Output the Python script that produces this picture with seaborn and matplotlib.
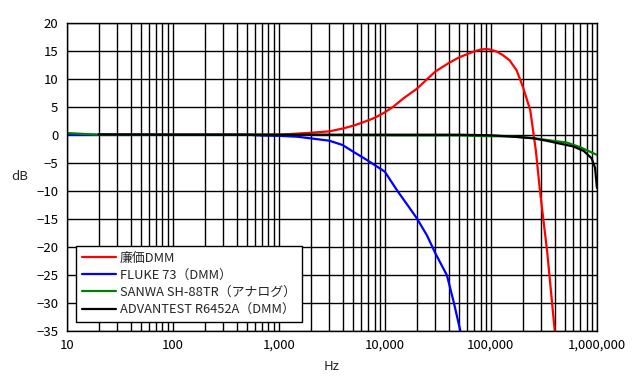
import numpy as np
import pandas as pd
import matplotlib
matplotlib.use("Agg")
import matplotlib.pyplot as plt
import matplotlib.ticker as mticker
import seaborn as sns

# ---- data ----
series_names = ["廉価DMM", "FLUKE 73（DMM）", "SANWA SH-88TR（アナログ）", "ADVANTEST R6452A（DMM）"]
series_colors = ["#ff0000", "#0000ff", "#008000", "#000000"]

red_hz = [20, 100, 1000, 2000, 3000, 4000, 5000, 6000, 8000, 10000, 12000, 15000,
          20000, 25000, 30000, 40000, 50000, 60000, 70000, 80000, 90000, 100000,
          115000, 130000, 150000, 175000, 200000, 235000, 265000,
          290000, 340000, 400000, 420000]
red_db = [0, 0, 0, 0.35, 0.6, 1.1, 1.6, 2.1, 3.0, 4.0, 5.0, 6.5,
          8.2, 9.9, 11.3, 12.8, 13.8, 14.4, 14.9, 15.2, 15.3, 15.2,
          14.8, 14.2, 13.3, 11.5, 8.6, 4.4, -2.7,
          -9.9, -21.0, -35.0, -39.0]

blue_hz = [10, 20, 100, 500, 700, 1000, 1500, 2000, 3000, 4000, 5000, 6500, 8000,
           10000, 13000, 16000, 20000, 25000, 30000, 38500, 44500, 51500, 54000]
blue_db = [0, 0, 0, 0, -0.15, -0.2, -0.36, -0.65, -1.07, -1.84, -3.0, -4.3, -5.4,
           -6.6, -9.9, -12.3, -14.9, -18.0, -21.2, -25.1, -29.8, -35.0, -37.0]

green_hz = [10, 20, 100, 1000, 10000, 13000, 50000, 67000, 90000, 150000,
            250000, 390000, 520000, 690000, 1000000]
green_db = [0.3, 0.0, 0.0, 0, -0.1, -0.12, -0.12, -0.2, -0.25, -0.3,
            -0.6, -1.1, -1.4, -2.2, -3.6]

black_hz = [20, 100, 1000, 10000, 50000, 100000, 163000, 205000, 253000,
            340000, 450000, 600000, 750000, 890000, 960000, 1000000]
black_db = [0.05, 0, 0, 0, 0, -0.1, -0.35, -0.5, -0.65,
            -1.1, -1.6, -2.1, -2.9, -4.2, -5.9, -9.5]

x_ticks = [10, 100, 1000, 10000, 100000, 1000000]
y_ticks = [20, 15, 10, 5, 0, -5, -10, -15, -20, -25, -30, -35]

frames = []
for name, hz, db in zip(series_names,
                        [red_hz, blue_hz, green_hz, black_hz],
                        [red_db, blue_db, green_db, black_db]):
    frames.append(pd.DataFrame({"Hz": hz, "dB": db, "series": name}))
df = pd.concat(frames, ignore_index=True)

# ---- plot ----
sns.set_style("white")
plt.rcParams["font.family"] = ["Noto Sans CJK JP", "DejaVu Sans"]
plt.rcParams["axes.unicode_minus"] = True

fig = plt.figure(figsize=(6.32, 3.92), dpi=100)
ax = fig.add_axes([0.1055, 0.1564, 0.839, 0.7856])

sns.lineplot(data=df, x="Hz", y="dB", hue="series", hue_order=series_names,
             palette=dict(zip(series_names, series_colors)),
             estimator=None, sort=False, linewidth=1.6, ax=ax)

ax.set_xscale("log")
ax.set_xlim(10, 1000000)
ax.set_ylim(-35, 20)
ax.set_yticks(y_ticks)
ax.set_xticks(x_ticks)
ax.xaxis.set_major_formatter(mticker.FuncFormatter(lambda v, p: f"{int(round(v)):,}"))
ax.xaxis.set_minor_locator(mticker.LogLocator(base=10, subs=np.arange(2, 10)))
ax.xaxis.set_minor_formatter(mticker.NullFormatter())

ax.grid(True, which="both", axis="x", color="black", linewidth=1.0)
ax.grid(True, which="major", axis="y", color="black", linewidth=1.0)
ax.set_axisbelow(True)
for s in ax.spines.values():
    s.set_color("black")
    s.set_linewidth(1.0)
ax.tick_params(which="both", length=0, labelsize=9.5, colors="black", pad=6)

ax.set_xlabel("Hz", fontsize=9.5, labelpad=6)
ax.set_ylabel("dB", fontsize=9.5, rotation=0, labelpad=12, va="center")

leg = ax.legend(loc="lower left", bbox_to_anchor=(0.018, 0.028), fontsize=9.3,
                frameon=True, fancybox=False, handlelength=2.6, handletextpad=0.35,
                borderpad=0.45, labelspacing=0.33, borderaxespad=0)
leg.get_frame().set_edgecolor("black")
leg.get_frame().set_linewidth(1.0)
leg.get_frame().set_alpha(1)

fig.savefig("out.png", dpi=100)
